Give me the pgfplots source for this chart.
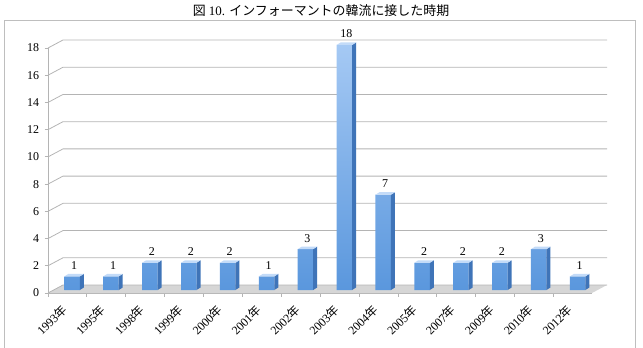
\documentclass[border=0pt]{standalone}
\usepackage{pgfplots}
\usepackage{pgfplotstable}
\pgfplotsset{compat=1.18}
\usepackage{fontspec}
\setmainfont{Liberation Serif}
\newfontfamily\cjk{Noto Sans CJK JP}
\definecolor{barTop}{HTML}{A5C9F4}
\definecolor{barBot}{HTML}{5A97DD}
\definecolor{sideCol}{HTML}{3F74B8}
\definecolor{topCol}{HTML}{C3DBF8}
\definecolor{gridCol}{HTML}{B4B4B4}
\definecolor{floorCol}{HTML}{D6D6D6}
\definecolor{frameCol}{HTML}{BEBEBE}

\pgfdeclareplotmark{bar3d}{%
  \pgfmathsetmacro\hh{\rawy*13.611}%
  \pgfpathmoveto{\pgfpoint{7.75bp}{3bp}}%
  \pgfpathlineto{\pgfpoint{11.75bp}{5.5bp}}%
  \pgfpathlineto{\pgfpoint{11.75bp}{5.5bp-\hh bp}}%
  \pgfpathlineto{\pgfpoint{7.75bp}{3bp-\hh bp}}%
  \pgfpathclose
  \pgfsetfillcolor{sideCol}\pgfusepath{fill}%
  \pgfpathmoveto{\pgfpoint{-7.75bp}{3bp}}%
  \pgfpathlineto{\pgfpoint{7.75bp}{3bp}}%
  \pgfpathlineto{\pgfpoint{11.75bp}{5.5bp}}%
  \pgfpathlineto{\pgfpoint{-3.75bp}{5.5bp}}%
  \pgfpathclose
  \pgfsetfillcolor{topCol}\pgfusepath{fill}%
}

\pgfplotstableread{
x y
0 1
1 1
2 2
3 2
4 2
5 1
6 3
7 18
8 7
9 2
10 2
11 2
12 3
13 1
}\datatable

\begin{document}
\begin{tikzpicture}[x=1bp,y=1bp]
\useasboundingbox (0,0) rectangle (643,347);
\draw[frameCol, line width=0.8bp] (4,-3) rectangle (635,327);
\node[font=\fontsize{13}{15}\selectfont] at (321,336.5) {{\cjk 図} 10. {\cjk インフォーマントの韓流に接した時期}};
\begin{axis}[
  at={(48bp,54bp)}, anchor=south west,
  scale only axis, width=544bp, height=245bp,
  xmin=-0.62, xmax=13.37, ymin=0, ymax=18,
  clip=false,
  axis x line*=bottom, axis y line*=left,
  axis line style={gridCol, line width=0.8bp},
  tick align=outside, major tick length=3.5bp,
  tick style={gridCol, line width=0.8bp},
  xtick={0,...,13},
  xticklabels={1993{\cjk 年},1995{\cjk 年},1998{\cjk 年},1999{\cjk 年},2000{\cjk 年},2001{\cjk 年},2002{\cjk 年},2003{\cjk 年},2004{\cjk 年},2005{\cjk 年},2007{\cjk 年},2009{\cjk 年},2010{\cjk 年},2012{\cjk 年}},
  major x tick style={draw=none},
  extra x ticks={-0.62,0.38,1.38,2.38,3.38,4.38,5.38,6.38,7.38,8.38,9.38,10.38,11.38,12.38,13.38},
  extra x tick labels={},
  extra x tick style={major x tick style={draw=gridCol, line width=0.8bp}},
  xticklabel style={xshift=-7bp, yshift=-10bp, rotate=45, anchor=east, font=\fontsize{12}{14}\selectfont, inner sep=1bp},
  ytick={0,2,...,18},
  yticklabel style={font=\fontsize{12}{14}\selectfont, xshift=-2bp},
  /pgf/number format/assume math mode=true,
]
\fill[floorCol] (axis cs:-0.62,0) -- (axis cs:13.37,0) -- ++(15bp,8bp) -- ([shift={(15bp,8bp)}]axis cs:-0.62,0) -- cycle;
\pgfplotsinvokeforeach{0,2,...,18}{
  \draw[gridCol, line width=0.8bp] (axis cs:-0.62,#1) -- ++(15bp,8bp) -- ([shift={(15bp,8bp)}]axis cs:13.37,#1);
}
\addplot[ybar, bar width=15.5bp, bar shift=0pt, draw=none, top color=barTop, bottom color=barBot, yshift=3bp] table[x=x,y=y]{\datatable};
\addplot[scatter, only marks, mark=bar3d,
  visualization depends on={rawy \as \rawy},
  scatter/@pre marker code/.code={},
  scatter/@post marker code/.code={},
  nodes near coords,
  nodes near coords style={font=\fontsize{12}{14}\selectfont, anchor=center, yshift=14bp, xshift=2bp, text=black},
] table[x=x,y=y]{\datatable};
\end{axis}
\end{tikzpicture}
\end{document}
